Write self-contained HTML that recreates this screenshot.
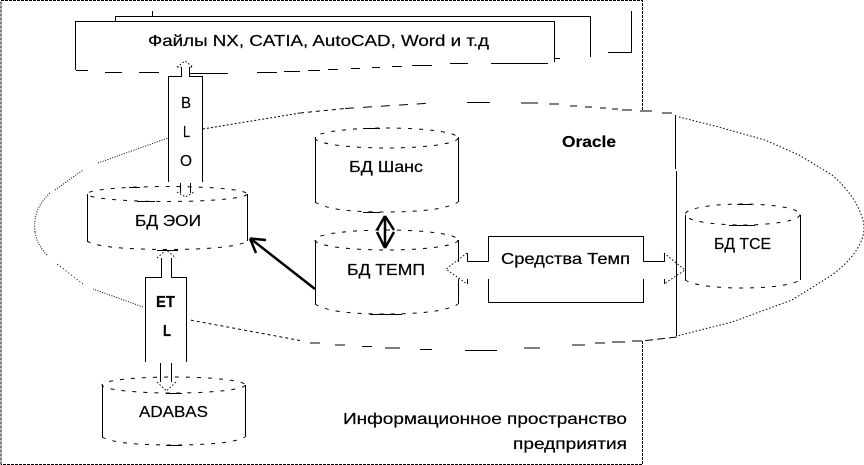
<!DOCTYPE html>
<html><head><meta charset="utf-8">
<style>
html,body{margin:0;padding:0;background:#fff;width:864px;height:465px;overflow:hidden}
svg{display:block}
text{font-family:"Liberation Sans","DejaVu Sans",sans-serif;font-size:16px;fill:#000;stroke:#000;stroke-width:.2}
</style></head><body>
<svg width="864" height="465" viewBox="0 0 864 465" xmlns="http://www.w3.org/2000/svg">
<g fill="none" stroke="#000" stroke-width="1" shape-rendering="crispEdges">
<!-- outer dashed frame -->
<path d="M1 464.500V0.500H642.500V110M642.500 341V464.500H1" stroke-dasharray="3 1"/>
<!-- stacked files -->
<path d="M152.500 11V16.500M115.500 21V16.500H590.500V57M631.500 11V52.500H608"/>
<path d="M75.500 70V21.500H554.500V62M554.500 58.500H560"/>
<path d="M76 70.500H88M105 72.500H122M139 72.500H159M190 73.500H228M257 72.500H277M284 71.500H300M308 70.500H320M328 69.500H338M351 68.500H360M372 67.500H380M392 66.500H402M412 65.500H432M450 63.500H468M491 63.500H548"/>
<!-- BLOB box -->
<path d="M168.500 182V76.500H181.500V67M189.500 67V76.500H202.500V182"/>
<path d="M180.500 183V193M190.500 183V193"/>
<!-- ETL box -->
<path d="M145.500 362V277.500H161.500V258M171.500 258V277.500H186.500V362"/>
<path d="M160.500 363V382M171.500 363V382"/>
<!-- Sredstva box -->
<path d="M488.500 261.500V236.500H643.500V261.500H664.500V253M643.500 279V302.500H488.500V279M488.500 261.500H467.500V253M467.500 279V284M664.500 279V284"/>
<!-- vertical lines -->
<path d="M675.500 115V169M676.500 171V336"/>
</g>
<!-- dotted arrowheads -->
<g fill="none" stroke="#000" stroke-width="1" stroke-dasharray="1.500 2">
<path d="M177 67L185 61L193 67H189M177 67H181"/>
<path d="M177 192L185.500 197L194 192"/>
<path d="M157 258L166 250L176 258"/>
<path d="M157 382L166.500 391L176 382"/>
<path d="M467 253L446 269L467 284"/>
<path d="M664 253L685 270L664 284"/>
</g>
<!-- big ellipse, hand-traced sections -->
<g fill="none" stroke="#000" stroke-width="1">
<path d="M35 232Q34 222 36 215Q38 205 50 193" stroke-dasharray="1 1.500"/>
<path d="M55 190L83 170" stroke-dasharray="1 1.500"/>
<path d="M98 163L168 138" stroke-dasharray="1 1.500"/>
<path d="M203 129L300 113" stroke-dasharray="2 2"/>
<path d="M300 113L345 108.500" stroke-dasharray="4 4"/>
<path d="M345 108.500L432 103" stroke-dasharray="9 9"/>
<path d="M467 102.500H490M521 103H538M549 104H559M570 106H577M585 107H592M600 108H606M612 109H618M622 110H632M640 111H652M662 113H672"/>
<path d="M679 117L715 126L765 140L799 155L832 175Q855 195 862 217Q866 228 862 239Q855 258 832 275L792 300L732 322L677 336" stroke-dasharray="1.500 2"/>
<path d="M677 337L642 341" stroke-dasharray="8 4"/>
<path d="M642 341H632M625 342H612M605 343H595M585 345H572M540 348H524M497 350.500H465M432 349.500H420M400 348H385M372 346.500H362M345 345H335M320 343H310" />
<path d="M300 340.500L190 320" stroke-dasharray="3 3"/>
<path d="M143 307L93 289" stroke-dasharray="1 1.500"/>
<path d="M83 284L57 264" stroke-dasharray="1 2.500"/>
<path d="M47 255Q37 245 35 232" stroke-dasharray="1 1.500"/>
</g>
<!-- cylinders -->
<g fill="none" stroke="#000" stroke-width="1" stroke-dasharray="4 7">
<ellipse cx="167" cy="194" rx="80" ry="7.500"/>
<ellipse cx="386.500" cy="138" rx="71.500" ry="10"/>
<ellipse cx="386.500" cy="240" rx="71.500" ry="10"/>
<ellipse cx="742.500" cy="214.500" rx="57.500" ry="10.500"/>
<ellipse cx="173.500" cy="385" rx="71.500" ry="8"/>
<path d="M87 241C95 247 130 249.500 167 249.500C205 249.500 240 247 247 241"/>
<path d="M315 202C325 209 350 212 386 212C420 212 448 209 458 202"/>
<path d="M315 304C325 311 350 314 386 314C420 314 448 311 458 304"/>
<path d="M685 280C695 286 720 288 742 288C765 288 790 286 800 280"/>
<path d="M102 437C112 443 140 445 173 445C205 445 235 443 245 437"/>
</g>
<g fill="none" stroke="#000" stroke-width="1" shape-rendering="crispEdges">
<path d="M87.500 194V241M247.500 194V241"/>
<path d="M315.500 137V202M458.500 137V202"/>
<path d="M315.500 240V304M458.500 240V262M458.500 279V304"/>
<path d="M685.500 215V280M800.500 215V280"/>
<path d="M102.500 385V437M245.500 385V437"/>
<path d="M157 250.500H178M370 314.500H402M129 187.500H140M363 128.500H380M363 212.500H380M737 204.500H752M729 225.500H755M166 393.500H182M166 445.500H182M137 201.500H155"/>
</g>
<!-- bold arrows -->
<g fill="none" stroke="#000" stroke-width="2.500">
<path d="M315 289L251 239M250 238.500L266 240M250 238.500L256 253"/>
<path d="M385 217V247M385 216L377 230M385 216L394 230M385 248L377 232M385 248L394 232"/>
</g>
<!-- labels -->
<text x="148" y="46" textLength="341" lengthAdjust="spacingAndGlyphs">Файлы NX, CATIA, AutoCAD, Word и т.д</text>
<text x="181" y="108" textLength="10" lengthAdjust="spacingAndGlyphs">B</text>
<text x="183" y="137" textLength="7" lengthAdjust="spacingAndGlyphs">L</text>
<text x="180" y="166" textLength="12" lengthAdjust="spacingAndGlyphs">O</text>
<text x="135" y="226" textLength="66" lengthAdjust="spacingAndGlyphs">БД ЭОИ</text>
<text x="349" y="172" textLength="74" lengthAdjust="spacingAndGlyphs">БД Шанс</text>
<text x="347" y="275" textLength="78" lengthAdjust="spacingAndGlyphs">БД ТЕМП</text>
<text x="562" y="147" textLength="54" lengthAdjust="spacingAndGlyphs" font-weight="bold">Oracle</text>
<text x="714" y="249" textLength="57" lengthAdjust="spacingAndGlyphs">БД ТСЕ</text>
<text x="501" y="264" textLength="129" lengthAdjust="spacingAndGlyphs">Средства Темп</text>
<text x="156" y="307" textLength="19" lengthAdjust="spacingAndGlyphs" font-weight="bold">ET</text>
<text x="163" y="336" textLength="8" lengthAdjust="spacingAndGlyphs" font-weight="bold">L</text>
<text x="139" y="417" textLength="69" lengthAdjust="spacingAndGlyphs">ADABAS</text>
<text x="343" y="424" textLength="284" lengthAdjust="spacingAndGlyphs">Информационное пространство</text>
<text x="513" y="449" textLength="114" lengthAdjust="spacingAndGlyphs">предприятия</text>
</svg>
</body></html>
